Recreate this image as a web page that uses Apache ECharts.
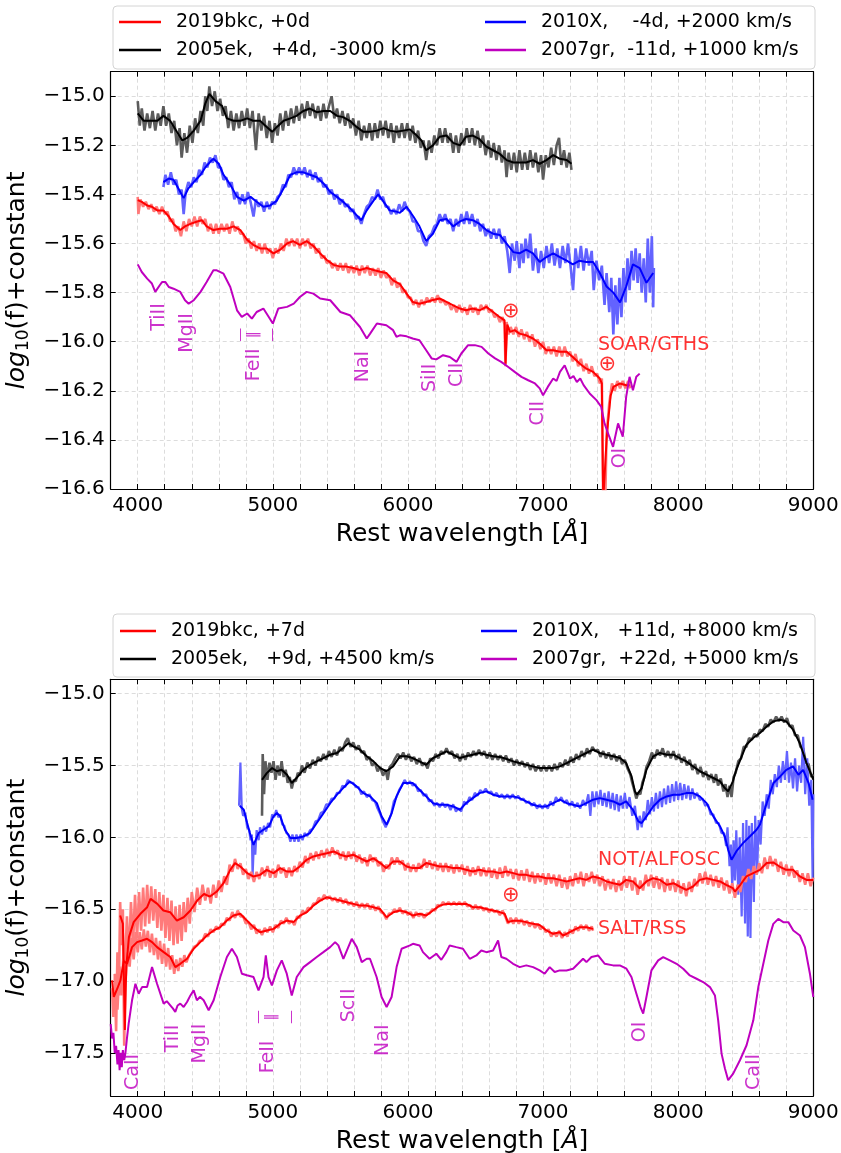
<!DOCTYPE html>
<html lang="en">
<head>
<meta charset="UTF-8">
<title>SN 2019bkc spectra comparison</title>
<script src="https://cdn.jsdelivr.net/npm/echarts@6/dist/echarts.min.js"></script>
<style>
  html, body { margin: 0; padding: 0; background: #fff; }
  #chart { width: 841px; height: 1153px; }
</style>
</head>
<body>
<div id="chart"></div>
<script>
// ---------- top panel (around maximum) ----------
const bkcTopRaw = [[4000,-15.41],[4005,-15.48],[4020,-15.42],[4040,-15.45],[4060,-15.43],[4080,-15.46],[4100,-15.44],[4120,-15.47],[4140,-15.45],[4160,-15.48],[4180,-15.45],[4200,-15.48],[4220,-15.47],[4240,-15.51],[4260,-15.50],[4280,-15.55],[4300,-15.53],[4320,-15.57],[4340,-15.51],[4360,-15.55],[4380,-15.50],[4400,-15.53],[4420,-15.49],[4440,-15.53],[4460,-15.49],[4480,-15.52],[4500,-15.50],[4520,-15.55],[4540,-15.52],[4560,-15.56],[4580,-15.52],[4600,-15.56],[4620,-15.52],[4640,-15.55],[4660,-15.52],[4680,-15.56],[4700,-15.51],[4720,-15.55],[4740,-15.53],[4760,-15.56],[4780,-15.56],[4800,-15.60],[4820,-15.58],[4840,-15.62],[4860,-15.59],[4880,-15.63],[4900,-15.60],[4920,-15.64],[4940,-15.60],[4960,-15.64],[4980,-15.62],[5000,-15.66],[5020,-15.62],[5040,-15.64],[5060,-15.60],[5080,-15.63],[5100,-15.58],[5120,-15.61],[5140,-15.58],[5160,-15.61],[5180,-15.58],[5200,-15.62],[5220,-15.58],[5240,-15.61],[5260,-15.58],[5280,-15.62],[5300,-15.60],[5320,-15.64],[5340,-15.62],[5360,-15.66],[5380,-15.65],[5400,-15.68],[5420,-15.67],[5440,-15.70],[5460,-15.68],[5480,-15.71],[5500,-15.68],[5520,-15.71],[5540,-15.68],[5560,-15.72],[5580,-15.69],[5600,-15.72],[5620,-15.69],[5640,-15.73],[5660,-15.69],[5680,-15.72],[5700,-15.69],[5720,-15.73],[5740,-15.70],[5760,-15.73],[5780,-15.70],[5800,-15.74],[5820,-15.71],[5840,-15.74],[5860,-15.73],[5880,-15.77],[5900,-15.74],[5920,-15.78],[5940,-15.76],[5960,-15.80],[5980,-15.79],[6000,-15.82],[6020,-15.82],[6040,-15.85],[6060,-15.83],[6080,-15.86],[6100,-15.83],[6120,-15.85],[6140,-15.82],[6160,-15.84],[6180,-15.82],[6200,-15.84],[6220,-15.81],[6240,-15.84],[6260,-15.83],[6280,-15.85],[6300,-15.84],[6320,-15.87],[6340,-15.85],[6360,-15.88],[6380,-15.85],[6400,-15.88],[6420,-15.86],[6440,-15.89],[6460,-15.85],[6480,-15.88],[6500,-15.86],[6520,-15.89],[6540,-15.85],[6560,-15.87],[6580,-15.85],[6600,-15.88],[6620,-15.87],[6640,-15.90],[6660,-15.89],[6680,-15.92],[6700,-15.90],[6715,-15.93],[6722,-16.10],[6730,-15.92],[6745,-15.97],[6760,-15.94],[6780,-15.97],[6800,-15.94],[6820,-15.98],[6840,-15.95],[6860,-15.99],[6880,-15.96],[6900,-16.00],[6920,-15.97],[6940,-16.02],[6960,-15.99],[6980,-16.03],[7000,-16.00],[7020,-16.05],[7040,-16.02],[7060,-16.05],[7080,-16.02],[7100,-16.06],[7120,-16.02],[7140,-16.06],[7160,-16.02],[7180,-16.06],[7200,-16.04],[7220,-16.08],[7240,-16.05],[7260,-16.10],[7280,-16.07],[7300,-16.12],[7320,-16.09],[7340,-16.13],[7360,-16.10],[7380,-16.14],[7400,-16.13],[7420,-16.17],[7435,-16.15],[7445,-16.65],[7460,-16.65],[7470,-16.38],[7490,-16.25],[7510,-16.17],[7530,-16.20],[7550,-16.16],[7570,-16.19],[7590,-16.16],[7610,-16.19],[7630,-16.16],[7645,-16.19]];
const bkcTop = [[4000,-15.423],[4030,-15.43],[4070,-15.445],[4105,-15.45],[4145,-15.465],[4190,-15.465],[4230,-15.49],[4265,-15.52],[4315,-15.545],[4350,-15.53],[4390,-15.52],[4440,-15.51],[4475,-15.505],[4510,-15.53],[4560,-15.545],[4610,-15.54],[4660,-15.54],[4710,-15.53],[4760,-15.545],[4810,-15.585],[4855,-15.605],[4905,-15.62],[4955,-15.62],[5005,-15.64],[5055,-15.625],[5105,-15.60],[5150,-15.59],[5200,-15.605],[5250,-15.59],[5300,-15.61],[5350,-15.64],[5400,-15.667],[5450,-15.687],[5500,-15.694],[5545,-15.694],[5595,-15.70],[5645,-15.708],[5695,-15.70],[5745,-15.708],[5795,-15.715],[5840,-15.72],[5890,-15.75],[5940,-15.765],[5990,-15.804],[6035,-15.838],[6085,-15.845],[6135,-15.838],[6185,-15.83],[6235,-15.824],[6285,-15.838],[6335,-15.852],[6385,-15.865],[6430,-15.872],[6480,-15.865],[6530,-15.872],[6580,-15.858],[6630,-15.879],[6680,-15.90],[6715,-15.913],[6722,-16.09],[6735,-15.93],[6755,-15.96],[6790,-15.953],[6825,-15.967],[6875,-15.974],[6925,-15.987],[6975,-16.007],[7025,-16.035],[7075,-16.035],[7125,-16.041],[7175,-16.041],[7220,-16.062],[7270,-16.089],[7320,-16.11],[7370,-16.123],[7420,-16.15],[7435,-16.17],[7445,-16.65],[7455,-16.65],[7470,-16.40],[7480,-16.333],[7500,-16.22],[7520,-16.184],[7570,-16.17],[7615,-16.177],[7640,-16.177]];

const ek05TopRaw = [[4000,-15.02],[4015,-15.12],[4030,-15.05],[4050,-15.14],[4070,-15.07],[4090,-15.13],[4110,-15.06],[4130,-15.14],[4150,-15.07],[4170,-15.12],[4190,-15.04],[4210,-15.12],[4230,-15.07],[4250,-15.15],[4270,-15.10],[4290,-15.20],[4310,-15.13],[4325,-15.25],[4345,-15.15],[4365,-15.23],[4385,-15.12],[4405,-15.19],[4425,-15.09],[4445,-15.15],[4465,-15.06],[4485,-15.12],[4500,-15.00],[4515,-15.06],[4530,-14.96],[4550,-15.04],[4570,-14.98],[4590,-15.06],[4610,-15.01],[4630,-15.08],[4650,-15.04],[4670,-15.13],[4690,-15.06],[4710,-15.14],[4730,-15.07],[4750,-15.13],[4770,-15.06],[4790,-15.12],[4810,-15.05],[4830,-15.13],[4850,-15.06],[4875,-15.22],[4895,-15.07],[4915,-15.14],[4935,-15.08],[4955,-15.17],[4975,-15.10],[4995,-15.19],[5015,-15.11],[5035,-15.16],[5055,-15.07],[5075,-15.14],[5095,-15.06],[5115,-15.12],[5135,-15.05],[5155,-15.11],[5175,-15.04],[5195,-15.10],[5215,-15.03],[5235,-15.09],[5255,-15.02],[5275,-15.08],[5295,-15.03],[5315,-15.09],[5335,-15.04],[5355,-15.10],[5375,-15.03],[5395,-15.09],[5415,-15.04],[5435,-15.00],[5455,-15.09],[5475,-15.05],[5495,-15.11],[5515,-15.06],[5535,-15.12],[5555,-15.07],[5575,-15.13],[5595,-15.09],[5615,-15.16],[5635,-15.10],[5655,-15.18],[5675,-15.12],[5695,-15.17],[5715,-15.11],[5735,-15.18],[5755,-15.11],[5775,-15.17],[5795,-15.10],[5815,-15.16],[5835,-15.10],[5855,-15.17],[5875,-15.11],[5895,-15.19],[5915,-15.12],[5935,-15.17],[5955,-15.11],[5975,-15.17],[5995,-15.11],[6015,-15.18],[6035,-15.12],[6055,-15.19],[6075,-15.14],[6095,-15.21],[6115,-15.18],[6135,-15.26],[6155,-15.18],[6175,-15.23],[6195,-15.16],[6215,-15.20],[6235,-15.13],[6255,-15.19],[6275,-15.13],[6295,-15.19],[6315,-15.15],[6335,-15.23],[6355,-15.16],[6375,-15.23],[6395,-15.15],[6415,-15.20],[6435,-15.13],[6455,-15.19],[6475,-15.13],[6495,-15.20],[6515,-15.14],[6535,-15.21],[6555,-15.16],[6575,-15.24],[6595,-15.18],[6615,-15.25],[6635,-15.19],[6655,-15.26],[6675,-15.20],[6695,-15.27],[6715,-15.22],[6730,-15.33],[6745,-15.23],[6765,-15.30],[6785,-15.23],[6805,-15.31],[6825,-15.22],[6845,-15.30],[6865,-15.23],[6885,-15.30],[6905,-15.22],[6925,-15.29],[6945,-15.23],[6965,-15.31],[6985,-15.24],[7000,-15.34],[7020,-15.24],[7040,-15.29],[7060,-15.21],[7080,-15.28],[7100,-15.20],[7118,-15.17],[7135,-15.28],[7155,-15.22],[7175,-15.29],[7195,-15.23],[7210,-15.30]];
const ek05Top = [[4000,-15.07],[4045,-15.10],[4095,-15.10],[4145,-15.10],[4190,-15.08],[4240,-15.10],[4290,-15.145],[4330,-15.18],[4365,-15.17],[4415,-15.14],[4465,-15.10],[4500,-15.03],[4530,-14.99],[4575,-15.02],[4625,-15.04],[4660,-15.09],[4710,-15.10],[4760,-15.10],[4810,-15.09],[4855,-15.10],[4905,-15.10],[4955,-15.125],[4995,-15.145],[5030,-15.125],[5080,-15.10],[5130,-15.09],[5175,-15.08],[5225,-15.06],[5275,-15.05],[5325,-15.065],[5375,-15.06],[5425,-15.06],[5475,-15.08],[5520,-15.085],[5570,-15.10],[5620,-15.125],[5670,-15.145],[5720,-15.145],[5770,-15.14],[5820,-15.13],[5865,-15.14],[5915,-15.145],[5965,-15.14],[6015,-15.135],[6065,-15.16],[6100,-15.18],[6135,-15.22],[6185,-15.20],[6235,-15.165],[6285,-15.16],[6335,-15.19],[6385,-15.20],[6430,-15.165],[6480,-15.16],[6530,-15.175],[6580,-15.205],[6630,-15.22],[6680,-15.235],[6730,-15.26],[6780,-15.27],[6825,-15.27],[6875,-15.27],[6925,-15.26],[6975,-15.275],[7025,-15.26],[7075,-15.24],[7125,-15.255],[7175,-15.26],[7210,-15.275]];

const x10TopRaw = [[4190,-15.37],[4205,-15.32],[4225,-15.36],[4245,-15.31],[4265,-15.36],[4285,-15.34],[4305,-15.40],[4325,-15.38],[4340,-15.48],[4355,-15.39],[4375,-15.35],[4395,-15.37],[4415,-15.33],[4435,-15.35],[4455,-15.30],[4475,-15.32],[4495,-15.27],[4515,-15.29],[4535,-15.25],[4555,-15.27],[4575,-15.24],[4595,-15.29],[4615,-15.29],[4635,-15.34],[4655,-15.33],[4675,-15.37],[4695,-15.35],[4715,-15.42],[4735,-15.39],[4755,-15.44],[4775,-15.40],[4795,-15.44],[4815,-15.39],[4835,-15.43],[4857,-15.49],[4875,-15.42],[4895,-15.45],[4915,-15.43],[4935,-15.47],[4955,-15.43],[4975,-15.46],[4995,-15.43],[5015,-15.44],[5035,-15.41],[5055,-15.40],[5075,-15.36],[5095,-15.37],[5115,-15.32],[5135,-15.33],[5155,-15.29],[5175,-15.32],[5195,-15.29],[5215,-15.32],[5235,-15.29],[5255,-15.33],[5275,-15.30],[5295,-15.34],[5315,-15.31],[5335,-15.35],[5355,-15.33],[5375,-15.37],[5395,-15.36],[5415,-15.40],[5435,-15.38],[5455,-15.42],[5475,-15.40],[5495,-15.44],[5515,-15.42],[5535,-15.45],[5555,-15.44],[5575,-15.47],[5595,-15.46],[5615,-15.50],[5635,-15.49],[5655,-15.52],[5675,-15.48],[5695,-15.45],[5715,-15.44],[5735,-15.41],[5755,-15.42],[5775,-15.38],[5795,-15.42],[5815,-15.41],[5835,-15.45],[5855,-15.45],[5875,-15.48],[5895,-15.46],[5915,-15.48],[5935,-15.44],[5955,-15.47],[5975,-15.43],[5995,-15.46],[6015,-15.47],[6035,-15.51],[6055,-15.51],[6075,-15.55],[6095,-15.55],[6115,-15.59],[6135,-15.61],[6155,-15.57],[6175,-15.56],[6195,-15.53],[6215,-15.52],[6235,-15.48],[6255,-15.51],[6275,-15.48],[6295,-15.52],[6315,-15.50],[6335,-15.55],[6355,-15.50],[6375,-15.53],[6395,-15.48],[6415,-15.52],[6435,-15.47],[6455,-15.52],[6475,-15.48],[6495,-15.53],[6515,-15.50],[6535,-15.55],[6555,-15.52],[6575,-15.57],[6595,-15.54],[6615,-15.58],[6635,-15.54],[6655,-15.58],[6675,-15.54],[6695,-15.60],[6715,-15.57],[6735,-15.63],[6753,-15.72],[6770,-15.60],[6790,-15.67],[6805,-15.59],[6825,-15.70],[6840,-15.60],[6855,-15.68],[6870,-15.58],[6890,-15.66],[6905,-15.56],[6925,-15.71],[6945,-15.62],[6965,-15.72],[6985,-15.63],[7005,-15.70],[7025,-15.61],[7045,-15.68],[7065,-15.60],[7085,-15.69],[7105,-15.62],[7125,-15.70],[7145,-15.61],[7165,-15.68],[7185,-15.60],[7205,-15.70],[7222,-15.79],[7240,-15.62],[7260,-15.70],[7280,-15.61],[7300,-15.71],[7320,-15.62],[7340,-15.69],[7360,-15.63],[7375,-15.79],[7395,-15.67],[7415,-15.75],[7435,-15.69],[7455,-15.85],[7470,-15.72],[7490,-15.88],[7505,-15.74],[7520,-15.97],[7535,-15.77],[7550,-15.93],[7565,-15.74],[7580,-15.90],[7595,-15.70],[7610,-15.84],[7625,-15.66],[7640,-15.79],[7655,-15.63],[7670,-15.75],[7685,-15.62],[7700,-15.76],[7715,-15.64],[7730,-15.80],[7745,-15.66],[7760,-15.84],[7775,-15.58],[7790,-15.80],[7805,-15.57],[7815,-15.86],[7820,-15.70]];
const x10Top = [[4190,-15.35],[4230,-15.335],[4265,-15.34],[4300,-15.375],[4340,-15.415],[4375,-15.375],[4415,-15.35],[4465,-15.32],[4500,-15.29],[4540,-15.265],[4560,-15.255],[4600,-15.275],[4635,-15.32],[4685,-15.36],[4735,-15.41],[4785,-15.425],[4835,-15.41],[4880,-15.43],[4930,-15.45],[4980,-15.445],[5030,-15.425],[5080,-15.375],[5130,-15.32],[5175,-15.31],[5225,-15.31],[5275,-15.32],[5325,-15.33],[5375,-15.355],[5425,-15.39],[5475,-15.41],[5520,-15.43],[5570,-15.455],[5620,-15.485],[5655,-15.505],[5695,-15.465],[5745,-15.425],[5780,-15.40],[5820,-15.43],[5865,-15.465],[5915,-15.47],[5940,-15.475],[5990,-15.45],[6040,-15.49],[6085,-15.53],[6135,-15.59],[6185,-15.56],[6235,-15.505],[6285,-15.50],[6335,-15.53],[6385,-15.51],[6430,-15.50],[6480,-15.505],[6530,-15.52],[6580,-15.545],[6630,-15.56],[6680,-15.565],[6730,-15.60],[6780,-15.635],[6825,-15.64],[6875,-15.625],[6925,-15.64],[6975,-15.675],[7025,-15.655],[7075,-15.64],[7125,-15.655],[7175,-15.67],[7220,-15.685],[7270,-15.67],[7320,-15.675],[7370,-15.675],[7420,-15.72],[7470,-15.775],[7520,-15.80],[7570,-15.84],[7615,-15.775],[7665,-15.685],[7715,-15.70],[7765,-15.76],[7815,-15.72]];

const gr07Top = [[4000,-15.685],[4030,-15.716],[4070,-15.743],[4105,-15.763],[4130,-15.797],[4143,-15.804],[4163,-15.77],[4180,-15.757],[4205,-15.757],[4230,-15.777],[4265,-15.784],[4315,-15.797],[4350,-15.831],[4377,-15.845],[4415,-15.831],[4465,-15.797],[4510,-15.757],[4560,-15.709],[4585,-15.709],[4635,-15.723],[4685,-15.777],[4735,-15.872],[4770,-15.899],[4810,-15.885],[4845,-15.906],[4880,-15.879],[4930,-15.865],[4970,-15.899],[5000,-15.926],[5040,-15.865],[5105,-15.858],[5155,-15.845],[5200,-15.818],[5250,-15.797],[5300,-15.804],[5350,-15.824],[5425,-15.831],[5500,-15.879],[5570,-15.892],[5645,-15.94],[5695,-15.987],[5720,-15.967],[5770,-15.926],[5840,-15.933],[5890,-15.953],[5915,-15.98],[5940,-15.974],[5990,-15.978],[6035,-15.987],[6085,-15.994],[6135,-16.035],[6175,-16.068],[6210,-16.072],[6260,-16.055],[6310,-16.062],[6360,-16.082],[6395,-16.048],[6445,-16.014],[6495,-16.014],[6545,-16.021],[6595,-16.048],[6645,-16.068],[6690,-16.082],[6740,-16.102],[6790,-16.123],[6840,-16.143],[6890,-16.157],[6940,-16.17],[6975,-16.19],[7000,-16.218],[7035,-16.184],[7075,-16.15],[7100,-16.16],[7125,-16.123],[7160,-16.096],[7200,-16.15],[7225,-16.14],[7250,-16.164],[7275,-16.15],[7300,-16.177],[7345,-16.211],[7395,-16.238],[7430,-16.265],[7455,-16.333],[7490,-16.387],[7518,-16.428],[7555,-16.333],[7590,-16.387],[7615,-16.225],[7640,-16.143],[7665,-16.198],[7690,-16.143],[7715,-16.13]];

// ---------- bottom panel (after maximum) ----------
const notRaw = [[3830,-16.95],[3840,-17.35],[3850,-16.80],[3860,-17.10],[3870,-16.45],[3880,-16.75],[3890,-16.50],[3900,-17.45],[3910,-16.80],[3920,-16.55],[3935,-16.85],[3950,-16.45],[3965,-16.75],[3980,-16.40],[3995,-16.70],[4010,-16.38],[4025,-16.65],[4040,-16.35],[4055,-16.62],[4070,-16.33],[4085,-16.60],[4100,-16.34],[4115,-16.58],[4130,-16.36],[4145,-16.63],[4160,-16.38],[4175,-16.65],[4190,-16.40],[4205,-16.70],[4220,-16.42],[4235,-16.72],[4250,-16.44],[4265,-16.75],[4280,-16.48],[4295,-16.74],[4310,-16.47],[4325,-16.72],[4340,-16.45],[4355,-16.66],[4370,-16.42],[4385,-16.60],[4400,-16.38],[4420,-16.52],[4440,-16.35],[4460,-16.47],[4480,-16.33],[4500,-16.44],[4520,-16.35],[4540,-16.46],[4560,-16.33],[4580,-16.42],[4600,-16.30],[4620,-16.38],[4640,-16.27],[4660,-16.33],[4680,-16.19],[4700,-16.24],[4720,-16.15],[4740,-16.22],[4760,-16.18],[4780,-16.26],[4800,-16.22],[4820,-16.29],[4840,-16.24],[4860,-16.31],[4880,-16.24],[4900,-16.29],[4920,-16.21],[4940,-16.27],[4960,-16.20],[4980,-16.28],[5000,-16.22],[5020,-16.28],[5040,-16.19],[5060,-16.25],[5080,-16.21],[5100,-16.28],[5120,-16.21],[5140,-16.27],[5160,-16.20],[5180,-16.24],[5200,-16.17],[5220,-16.21],[5240,-16.13],[5260,-16.18],[5280,-16.11],[5300,-16.16],[5320,-16.10],[5340,-16.15],[5360,-16.09],[5380,-16.14],[5400,-16.08],[5420,-16.13],[5440,-16.07],[5460,-16.12],[5480,-16.09],[5500,-16.15],[5520,-16.10],[5540,-16.16],[5560,-16.10],[5580,-16.15],[5600,-16.10],[5620,-16.17],[5640,-16.12],[5660,-16.18],[5680,-16.14],[5700,-16.20],[5720,-16.12],[5740,-16.17],[5760,-16.14],[5780,-16.20],[5800,-16.17],[5820,-16.24],[5840,-16.19],[5860,-16.22],[5880,-16.14],[5900,-16.19],[5920,-16.14],[5940,-16.19],[5960,-16.16],[5980,-16.23],[6000,-16.18],[6020,-16.24],[6040,-16.19],[6060,-16.24],[6080,-16.18],[6100,-16.22],[6120,-16.15],[6140,-16.21],[6160,-16.16],[6180,-16.22],[6200,-16.17],[6220,-16.23],[6240,-16.18],[6260,-16.24],[6280,-16.18],[6300,-16.24],[6320,-16.19],[6340,-16.25],[6360,-16.19],[6380,-16.24],[6400,-16.19],[6420,-16.26],[6440,-16.20],[6460,-16.27],[6480,-16.21],[6500,-16.26],[6520,-16.20],[6540,-16.27],[6560,-16.21],[6580,-16.27],[6600,-16.21],[6620,-16.28],[6640,-16.22],[6660,-16.29],[6680,-16.21],[6700,-16.28],[6720,-16.20],[6740,-16.27],[6760,-16.22],[6780,-16.29],[6800,-16.22],[6820,-16.30],[6840,-16.23],[6860,-16.30],[6880,-16.22],[6900,-16.31],[6920,-16.24],[6940,-16.32],[6960,-16.25],[6980,-16.31],[7000,-16.25],[7020,-16.33],[7040,-16.25],[7060,-16.32],[7080,-16.26],[7100,-16.34],[7120,-16.26],[7140,-16.35],[7160,-16.28],[7180,-16.36],[7200,-16.27],[7220,-16.34],[7240,-16.25],[7260,-16.32],[7280,-16.24],[7300,-16.34],[7320,-16.25],[7340,-16.31],[7360,-16.24],[7380,-16.32],[7400,-16.26],[7420,-16.34],[7440,-16.27],[7460,-16.37],[7480,-16.29],[7500,-16.36],[7520,-16.29],[7540,-16.38],[7560,-16.30],[7580,-16.37],[7600,-16.27],[7620,-16.35],[7640,-16.27],[7660,-16.37],[7680,-16.28],[7700,-16.40],[7720,-16.30],[7740,-16.37],[7760,-16.26],[7780,-16.34],[7800,-16.26],[7820,-16.35],[7840,-16.27],[7860,-16.36],[7880,-16.28],[7900,-16.38],[7920,-16.29],[7940,-16.37],[7960,-16.29],[7980,-16.38],[8000,-16.30],[8020,-16.39],[8040,-16.32],[8060,-16.41],[8080,-16.31],[8100,-16.38],[8120,-16.29],[8140,-16.34],[8160,-16.25],[8180,-16.32],[8200,-16.24],[8220,-16.33],[8240,-16.26],[8260,-16.34],[8280,-16.27],[8300,-16.35],[8320,-16.28],[8340,-16.37],[8360,-16.30],[8380,-16.39],[8400,-16.32],[8420,-16.42],[8440,-16.33],[8460,-16.38],[8480,-16.27],[8500,-16.31],[8520,-16.22],[8540,-16.29],[8560,-16.20],[8580,-16.26],[8600,-16.18],[8620,-16.25],[8640,-16.14],[8660,-16.22],[8680,-16.13],[8700,-16.20],[8720,-16.15],[8740,-16.24],[8760,-16.17],[8780,-16.26],[8800,-16.19],[8820,-16.27],[8840,-16.20],[8860,-16.28],[8880,-16.23],[8900,-16.31],[8920,-16.25],[8940,-16.33],[8960,-16.25],[8980,-16.34],[9000,-16.28]];
const notSmooth = [[3870,-16.544],[3890,-16.60],[3905,-17.34],[3915,-16.90],[3935,-16.694],[3970,-16.59],[4020,-16.532],[4070,-16.486],[4095,-16.428],[4145,-16.463],[4190,-16.509],[4240,-16.521],[4290,-16.579],[4340,-16.556],[4390,-16.509],[4440,-16.44],[4490,-16.394],[4535,-16.412],[4585,-16.377],[4635,-16.319],[4685,-16.226],[4720,-16.179],[4760,-16.203],[4810,-16.249],[4855,-16.272],[4905,-16.261],[4955,-16.226],[5005,-16.249],[5055,-16.214],[5105,-16.238],[5150,-16.238],[5200,-16.203],[5250,-16.156],[5300,-16.133],[5350,-16.121],[5400,-16.11],[5450,-16.098],[5500,-16.121],[5545,-16.133],[5595,-16.121],[5645,-16.145],[5695,-16.168],[5745,-16.145],[5795,-16.179],[5840,-16.214],[5890,-16.168],[5940,-16.168],[5990,-16.203],[6035,-16.214],[6085,-16.214],[6135,-16.179],[6185,-16.191],[6235,-16.203],[6285,-16.203],[6335,-16.214],[6385,-16.214],[6430,-16.226],[6480,-16.238],[6530,-16.226],[6580,-16.238],[6630,-16.238],[6680,-16.249],[6730,-16.238],[6780,-16.249],[6825,-16.261],[6875,-16.261],[6925,-16.272],[6975,-16.272],[7025,-16.284],[7075,-16.284],[7125,-16.296],[7175,-16.307],[7220,-16.296],[7270,-16.284],[7320,-16.296],[7370,-16.272],[7420,-16.284],[7470,-16.307],[7520,-16.319],[7570,-16.33],[7615,-16.296],[7665,-16.307],[7715,-16.354],[7765,-16.307],[7815,-16.284],[7865,-16.296],[7915,-16.33],[7965,-16.319],[8010,-16.342],[8060,-16.365],[8110,-16.342],[8160,-16.296],[8210,-16.284],[8260,-16.296],[8310,-16.307],[8355,-16.33],[8405,-16.354],[8420,-16.377],[8460,-16.33],[8505,-16.272],[8555,-16.249],[8605,-16.226],[8655,-16.179],[8705,-16.175],[8750,-16.203],[8800,-16.226],[8850,-16.226],[8900,-16.272],[8950,-16.296],[9000,-16.296]];

const saltRaw = [[3810,-17.05],[3820,-17.25],[3835,-16.95],[3850,-17.20],[3865,-16.90],[3880,-17.10],[3895,-16.80],[3910,-17.00],[3925,-16.80],[3940,-16.90],[3955,-16.70],[3970,-16.85],[3985,-16.66],[4000,-16.80],[4015,-16.66],[4030,-16.78],[4045,-16.64],[4060,-16.76],[4075,-16.65],[4090,-16.80],[4105,-16.67],[4120,-16.82],[4135,-16.70],[4150,-16.85],[4165,-16.72],[4180,-16.88],[4195,-16.74],[4210,-16.90],[4225,-16.77],[4240,-16.92],[4255,-16.82],[4270,-16.95],[4285,-16.85],[4300,-16.93],[4315,-16.84],[4330,-16.90],[4345,-16.82],[4360,-16.87],[4380,-16.82],[4400,-16.79],[4420,-16.76],[4440,-16.75],[4460,-16.72],[4480,-16.72],[4500,-16.67],[4520,-16.69],[4540,-16.64],[4560,-16.66],[4580,-16.62],[4600,-16.64],[4620,-16.60],[4640,-16.61],[4660,-16.56],[4680,-16.58],[4700,-16.52],[4720,-16.56],[4740,-16.51],[4760,-16.55],[4780,-16.55],[4800,-16.60],[4820,-16.59],[4840,-16.64],[4860,-16.61],[4880,-16.67],[4900,-16.64],[4920,-16.68],[4940,-16.63],[4960,-16.66],[4980,-16.62],[5000,-16.66],[5020,-16.61],[5040,-16.63],[5060,-16.58],[5080,-16.60],[5100,-16.56],[5120,-16.60],[5140,-16.58],[5160,-16.61],[5180,-16.55],[5200,-16.56],[5220,-16.51],[5240,-16.53],[5260,-16.49],[5280,-16.50],[5300,-16.46],[5320,-16.46],[5340,-16.42],[5360,-16.44],[5380,-16.40],[5400,-16.43],[5420,-16.41],[5440,-16.44],[5460,-16.42],[5480,-16.45],[5500,-16.42],[5520,-16.46],[5540,-16.43],[5560,-16.47],[5580,-16.45],[5600,-16.48],[5620,-16.45],[5640,-16.49],[5660,-16.46],[5680,-16.49],[5700,-16.46],[5720,-16.50],[5740,-16.47],[5760,-16.51],[5780,-16.48],[5800,-16.52],[5820,-16.53],[5840,-16.57],[5860,-16.53],[5880,-16.53],[5900,-16.50],[5920,-16.52],[5940,-16.49],[5960,-16.53],[5980,-16.51],[6000,-16.54],[6020,-16.52],[6040,-16.56],[6060,-16.52],[6080,-16.55],[6100,-16.53],[6120,-16.56],[6140,-16.53],[6160,-16.53],[6180,-16.50],[6200,-16.51],[6220,-16.47],[6240,-16.48],[6260,-16.45],[6280,-16.47],[6300,-16.45],[6320,-16.47],[6340,-16.45],[6360,-16.47],[6380,-16.45],[6400,-16.47],[6420,-16.45],[6440,-16.48],[6460,-16.47],[6480,-16.50],[6500,-16.47],[6520,-16.50],[6540,-16.48],[6560,-16.51],[6580,-16.49],[6600,-16.52],[6620,-16.50],[6640,-16.52],[6660,-16.51],[6680,-16.54],[6700,-16.51],[6720,-16.55],[6740,-16.60],[6760,-16.56],[6780,-16.60],[6800,-16.56],[6820,-16.60],[6840,-16.57],[6860,-16.61],[6880,-16.58],[6900,-16.62],[6920,-16.59],[6940,-16.63],[6960,-16.60],[6980,-16.64],[7000,-16.62],[7020,-16.66],[7040,-16.64],[7060,-16.69],[7080,-16.66],[7100,-16.69],[7120,-16.65],[7140,-16.70],[7160,-16.66],[7180,-16.69],[7200,-16.64],[7220,-16.67],[7240,-16.62],[7260,-16.65],[7280,-16.61],[7300,-16.64],[7320,-16.61],[7340,-16.65],[7360,-16.62],[7370,-16.65]];
const saltSmooth = [[3810,-16.995],[3823,-17.11],[3850,-17.05],[3872,-16.995],[3897,-16.86],[3921,-16.88],[3958,-16.764],[3995,-16.729],[4032,-16.718],[4069,-16.706],[4106,-16.729],[4143,-16.764],[4192,-16.799],[4241,-16.833],[4278,-16.903],[4315,-16.88],[4365,-16.845],[4414,-16.775],[4463,-16.729],[4512,-16.683],[4562,-16.648],[4611,-16.625],[4660,-16.579],[4709,-16.544],[4759,-16.532],[4808,-16.579],[4857,-16.625],[4906,-16.66],[4956,-16.648],[5005,-16.637],[5054,-16.602],[5103,-16.579],[5153,-16.59],[5202,-16.544],[5251,-16.521],[5300,-16.475],[5350,-16.44],[5399,-16.417],[5448,-16.428],[5498,-16.44],[5547,-16.451],[5596,-16.463],[5645,-16.475],[5695,-16.475],[5744,-16.486],[5793,-16.498],[5842,-16.556],[5892,-16.521],[5941,-16.509],[5990,-16.521],[6037,-16.544],[6086,-16.532],[6136,-16.544],[6185,-16.509],[6235,-16.475],[6284,-16.463],[6333,-16.463],[6383,-16.463],[6432,-16.463],[6481,-16.486],[6531,-16.486],[6580,-16.498],[6630,-16.509],[6679,-16.52],[6716,-16.532],[6740,-16.59],[6778,-16.58],[6827,-16.58],[6876,-16.59],[6926,-16.602],[6975,-16.61],[7025,-16.648],[7074,-16.671],[7123,-16.66],[7148,-16.683],[7173,-16.671],[7222,-16.648],[7272,-16.625],[7321,-16.625],[7370,-16.637]];

const ek05BotRaw = [[4920,-15.85],[4925,-15.42],[4935,-15.70],[4945,-15.47],[4960,-15.60],[4975,-15.48],[4990,-15.55],[5005,-15.47],[5020,-15.60],[5035,-15.50],[5050,-15.57],[5065,-15.47],[5080,-15.58],[5095,-15.53],[5110,-15.62],[5125,-15.58],[5140,-15.66],[5155,-15.60],[5170,-15.61],[5185,-15.55],[5200,-15.57],[5215,-15.50],[5235,-15.55],[5255,-15.48],[5275,-15.52],[5295,-15.46],[5315,-15.50],[5335,-15.44],[5355,-15.47],[5375,-15.42],[5395,-15.46],[5415,-15.40],[5435,-15.44],[5455,-15.39],[5475,-15.43],[5495,-15.37],[5515,-15.40],[5535,-15.34],[5555,-15.31],[5575,-15.37],[5595,-15.34],[5615,-15.39],[5635,-15.36],[5655,-15.41],[5675,-15.40],[5695,-15.46],[5715,-15.44],[5735,-15.50],[5755,-15.48],[5775,-15.54],[5795,-15.51],[5815,-15.57],[5835,-15.53],[5850,-15.60],[5865,-15.51],[5885,-15.49],[5905,-15.45],[5925,-15.42],[5945,-15.45],[5965,-15.41],[5985,-15.46],[6005,-15.42],[6025,-15.47],[6045,-15.44],[6065,-15.49],[6085,-15.45],[6105,-15.50],[6125,-15.48],[6145,-15.52],[6165,-15.45],[6185,-15.47],[6205,-15.42],[6225,-15.45],[6245,-15.40],[6265,-15.42],[6285,-15.38],[6305,-15.42],[6325,-15.40],[6345,-15.45],[6365,-15.42],[6385,-15.47],[6405,-15.42],[6425,-15.46],[6445,-15.41],[6465,-15.44],[6485,-15.40],[6505,-15.43],[6525,-15.39],[6545,-15.43],[6565,-15.40],[6585,-15.45],[6605,-15.41],[6625,-15.46],[6645,-15.42],[6665,-15.46],[6685,-15.43],[6705,-15.47],[6725,-15.43],[6745,-15.48],[6765,-15.45],[6785,-15.50],[6805,-15.46],[6825,-15.50],[6845,-15.47],[6865,-15.51],[6885,-15.48],[6905,-15.53],[6925,-15.49],[6945,-15.54],[6965,-15.50],[6985,-15.54],[7005,-15.50],[7025,-15.54],[7045,-15.50],[7065,-15.54],[7085,-15.49],[7105,-15.53],[7125,-15.48],[7145,-15.51],[7165,-15.46],[7185,-15.50],[7205,-15.44],[7225,-15.48],[7245,-15.42],[7265,-15.46],[7285,-15.40],[7305,-15.44],[7325,-15.38],[7345,-15.42],[7365,-15.37],[7385,-15.40],[7405,-15.39],[7425,-15.44],[7445,-15.40],[7465,-15.45],[7485,-15.41],[7505,-15.46],[7525,-15.42],[7545,-15.47],[7565,-15.43],[7585,-15.49],[7605,-15.46],[7625,-15.52],[7645,-15.56],[7660,-15.62],[7675,-15.67],[7690,-15.73],[7705,-15.69],[7720,-15.70],[7735,-15.62],[7750,-15.58],[7765,-15.51],[7785,-15.47],[7805,-15.41],[7825,-15.45],[7845,-15.39],[7865,-15.43],[7885,-15.38],[7905,-15.44],[7925,-15.40],[7945,-15.45],[7965,-15.40],[7985,-15.46],[8005,-15.42],[8025,-15.48],[8045,-15.44],[8065,-15.50],[8085,-15.46],[8105,-15.53],[8125,-15.49],[8145,-15.56],[8165,-15.51],[8185,-15.58],[8205,-15.54],[8225,-15.60],[8245,-15.56],[8265,-15.62],[8280,-15.56],[8295,-15.64],[8315,-15.59],[8335,-15.68],[8350,-15.63],[8365,-15.72],[8380,-15.64],[8395,-15.72],[8410,-15.58],[8425,-15.55],[8445,-15.47],[8465,-15.45],[8485,-15.37],[8505,-15.37],[8525,-15.31],[8545,-15.32],[8565,-15.28],[8585,-15.30],[8605,-15.25],[8625,-15.26],[8645,-15.21],[8665,-15.23],[8685,-15.18],[8705,-15.20],[8725,-15.16],[8745,-15.19],[8765,-15.16],[8785,-15.20],[8805,-15.17],[8825,-15.23],[8845,-15.22],[8865,-15.29],[8885,-15.29],[8905,-15.37],[8925,-15.38],[8945,-15.48],[8965,-15.49],[8985,-15.58],[9000,-15.56]];
const ek05Bot = [[4920,-15.60],[4955,-15.553],[4995,-15.518],[5030,-15.54],[5065,-15.53],[5105,-15.564],[5140,-15.622],[5175,-15.587],[5225,-15.53],[5275,-15.495],[5325,-15.471],[5375,-15.448],[5425,-15.425],[5475,-15.413],[5520,-15.378],[5560,-15.344],[5595,-15.367],[5645,-15.39],[5695,-15.436],[5745,-15.471],[5795,-15.518],[5840,-15.54],[5890,-15.506],[5940,-15.436],[5990,-15.436],[6035,-15.448],[6085,-15.471],[6135,-15.495],[6185,-15.448],[6235,-15.425],[6285,-15.402],[6335,-15.425],[6385,-15.448],[6430,-15.436],[6480,-15.425],[6530,-15.413],[6580,-15.425],[6630,-15.436],[6680,-15.44],[6730,-15.455],[6780,-15.471],[6825,-15.483],[6875,-15.495],[6925,-15.506],[6975,-15.518],[7025,-15.518],[7075,-15.518],[7125,-15.506],[7175,-15.483],[7220,-15.46],[7270,-15.436],[7320,-15.413],[7370,-15.39],[7420,-15.413],[7470,-15.425],[7520,-15.436],[7570,-15.448],[7615,-15.483],[7655,-15.576],[7680,-15.68],[7695,-15.703],[7730,-15.657],[7765,-15.53],[7815,-15.436],[7865,-15.413],[7915,-15.425],[7965,-15.425],[8010,-15.448],[8060,-15.471],[8110,-15.506],[8160,-15.54],[8210,-15.564],[8260,-15.587],[8310,-15.61],[8345,-15.657],[8370,-15.68],[8405,-15.61],[8430,-15.53],[8470,-15.436],[8505,-15.355],[8555,-15.309],[8605,-15.274],[8655,-15.228],[8705,-15.193],[8755,-15.181],[8800,-15.193],[8850,-15.251],[8900,-15.344],[8950,-15.483],[9000,-15.599]];

const x10BotRaw = [[4750,-15.78],[4760,-15.48],[4770,-15.80],[4780,-15.85],[4795,-15.83],[4810,-15.93],[4825,-15.95],[4835,-16.02],[4845,-15.98],[4850,-16.27],[4860,-16.03],[4870,-16.12],[4880,-15.95],[4895,-16.02],[4905,-15.93],[4920,-15.98],[4935,-15.92],[4950,-15.96],[4965,-15.90],[4980,-15.93],[4995,-15.84],[5010,-15.86],[5025,-15.81],[5040,-15.86],[5055,-15.84],[5070,-15.91],[5085,-15.92],[5100,-15.97],[5115,-15.98],[5130,-16.03],[5145,-15.98],[5160,-16.03],[5175,-15.98],[5190,-16.03],[5205,-15.98],[5220,-16.02],[5235,-15.97],[5255,-15.99],[5275,-15.95],[5295,-15.94],[5315,-15.89],[5335,-15.88],[5355,-15.83],[5375,-15.82],[5395,-15.77],[5415,-15.77],[5435,-15.73],[5455,-15.73],[5475,-15.69],[5495,-15.69],[5515,-15.64],[5535,-15.65],[5555,-15.60],[5575,-15.62],[5595,-15.62],[5615,-15.65],[5635,-15.65],[5655,-15.70],[5675,-15.68],[5695,-15.72],[5715,-15.70],[5735,-15.74],[5755,-15.75],[5775,-15.80],[5795,-15.84],[5815,-15.89],[5835,-15.93],[5855,-15.89],[5875,-15.84],[5895,-15.75],[5915,-15.72],[5935,-15.67],[5955,-15.64],[5975,-15.60],[5995,-15.63],[6015,-15.61],[6035,-15.64],[6055,-15.63],[6075,-15.68],[6095,-15.67],[6115,-15.71],[6135,-15.70],[6155,-15.75],[6175,-15.74],[6195,-15.78],[6215,-15.76],[6235,-15.79],[6255,-15.76],[6275,-15.79],[6295,-15.77],[6315,-15.81],[6335,-15.77],[6355,-15.82],[6375,-15.80],[6395,-15.82],[6415,-15.75],[6435,-15.77],[6455,-15.72],[6475,-15.74],[6495,-15.69],[6515,-15.71],[6535,-15.67],[6555,-15.69],[6575,-15.66],[6595,-15.69],[6615,-15.68],[6635,-15.71],[6655,-15.69],[6675,-15.72],[6695,-15.70],[6715,-15.73],[6735,-15.70],[6755,-15.73],[6775,-15.70],[6795,-15.73],[6815,-15.71],[6835,-15.74],[6855,-15.73],[6875,-15.76],[6895,-15.75],[6915,-15.78],[6935,-15.76],[6955,-15.80],[6975,-15.77],[6995,-15.80],[7015,-15.77],[7035,-15.80],[7055,-15.75],[7075,-15.78],[7095,-15.72],[7115,-15.75],[7135,-15.72],[7155,-15.76],[7175,-15.74],[7195,-15.78],[7215,-15.75],[7235,-15.79],[7255,-15.76],[7275,-15.80],[7295,-15.74],[7315,-15.78],[7335,-15.70],[7350,-15.85],[7365,-15.68],[7380,-15.79],[7395,-15.68],[7410,-15.77],[7425,-15.67],[7440,-15.78],[7455,-15.69],[7470,-15.79],[7485,-15.68],[7500,-15.80],[7515,-15.69],[7530,-15.81],[7545,-15.70],[7560,-15.82],[7575,-15.71],[7590,-15.80],[7605,-15.69],[7620,-15.80],[7640,-15.72],[7660,-15.85],[7680,-15.78],[7700,-15.95],[7715,-15.85],[7730,-15.93],[7745,-15.82],[7760,-15.88],[7775,-15.74],[7790,-15.84],[7805,-15.72],[7820,-15.82],[7835,-15.69],[7850,-15.80],[7865,-15.68],[7880,-15.79],[7895,-15.66],[7910,-15.77],[7925,-15.64],[7940,-15.76],[7955,-15.63],[7970,-15.75],[7985,-15.61],[8000,-15.74],[8015,-15.62],[8030,-15.74],[8045,-15.63],[8060,-15.73],[8075,-15.64],[8090,-15.74],[8105,-15.66],[8120,-15.73],[8140,-15.69],[8160,-15.74],[8180,-15.73],[8200,-15.78],[8220,-15.77],[8240,-15.84],[8260,-15.84],[8280,-15.90],[8300,-15.90],[8320,-15.97],[8340,-15.97],[8355,-16.06],[8365,-15.93],[8380,-16.20],[8390,-16.05],[8400,-16.35],[8410,-16.02],[8420,-16.30],[8430,-15.95],[8445,-16.40],[8455,-16.00],[8470,-16.55],[8480,-15.90],[8495,-16.60],[8505,-15.88],[8515,-16.69],[8525,-15.92],[8535,-16.70],[8545,-15.90],[8560,-16.45],[8570,-15.85],[8585,-16.25],[8595,-15.88],[8610,-16.05],[8625,-15.75],[8640,-15.85],[8655,-15.70],[8670,-15.80],[8685,-15.60],[8700,-15.70],[8715,-15.56],[8730,-15.65],[8745,-15.50],[8760,-15.62],[8775,-15.47],[8790,-15.60],[8805,-15.40],[8820,-15.62],[8835,-15.48],[8850,-15.66],[8865,-15.45],[8880,-15.68],[8895,-15.50],[8910,-15.62],[8925,-15.30],[8940,-15.70],[8955,-15.45],[8970,-15.78],[8985,-15.60],[8995,-16.30],[9000,-15.70]];
const x10Bot = [[4755,-15.78],[4785,-15.808],[4810,-15.90],[4830,-15.97],[4857,-16.052],[4895,-15.97],[4930,-15.947],[4970,-15.924],[5005,-15.854],[5030,-15.831],[5055,-15.854],[5090,-15.947],[5130,-16.005],[5175,-16.005],[5225,-15.994],[5275,-15.97],[5325,-15.90],[5375,-15.831],[5425,-15.762],[5475,-15.703],[5520,-15.657],[5570,-15.611],[5620,-15.645],[5670,-15.692],[5720,-15.715],[5770,-15.762],[5805,-15.854],[5842,-15.912],[5880,-15.831],[5915,-15.715],[5965,-15.622],[5990,-15.622],[6035,-15.622],[6085,-15.669],[6135,-15.715],[6185,-15.762],[6235,-15.773],[6285,-15.773],[6335,-15.785],[6385,-15.808],[6430,-15.762],[6480,-15.727],[6530,-15.692],[6580,-15.68],[6630,-15.703],[6680,-15.715],[6730,-15.715],[6780,-15.715],[6825,-15.727],[6875,-15.75],[6925,-15.773],[6975,-15.785],[7025,-15.785],[7075,-15.762],[7125,-15.738],[7175,-15.762],[7220,-15.773],[7270,-15.785],[7320,-15.762],[7370,-15.738],[7420,-15.727],[7470,-15.738],[7520,-15.75],[7570,-15.773],[7615,-15.75],[7665,-15.808],[7705,-15.889],[7730,-15.90],[7765,-15.854],[7815,-15.785],[7865,-15.738],[7915,-15.715],[7965,-15.703],[8010,-15.703],[8060,-15.692],[8110,-15.692],[8160,-15.715],[8210,-15.762],[8260,-15.854],[8310,-15.924],[8345,-15.994],[8370,-16.087],[8395,-16.156],[8430,-16.098],[8480,-16.04],[8530,-15.994],[8580,-15.947],[8605,-15.912],[8655,-15.762],[8705,-15.622],[8755,-15.576],[8800,-15.53],[8850,-15.506],[8890,-15.564],[8925,-15.53],[8965,-15.622],[8995,-15.738]];

const gr07Bot = [[3800,-17.30],[3810,-17.40],[3820,-17.36],[3830,-17.50],[3840,-17.45],[3850,-17.58],[3858,-17.48],[3866,-17.62],[3874,-17.50],[3882,-17.60],[3890,-17.48],[3900,-17.55],[3909,-17.50],[3920,-17.40],[3933,-17.296],[3958,-17.134],[3983,-17.019],[4007,-17.088],[4032,-17.042],[4069,-17.042],[4106,-16.903],[4143,-17.019],[4192,-17.157],[4215,-17.14],[4241,-17.169],[4260,-17.19],[4278,-17.215],[4295,-17.17],[4315,-17.157],[4340,-17.18],[4365,-17.146],[4390,-17.10],[4414,-17.065],[4438,-17.134],[4460,-17.11],[4488,-17.134],[4525,-17.203],[4562,-17.134],[4611,-16.972],[4660,-16.833],[4697,-16.775],[4734,-16.833],[4771,-16.949],[4808,-16.96],[4857,-16.972],[4894,-17.065],[4931,-16.972],[4948,-16.822],[4968,-16.972],[4993,-17.03],[5030,-16.926],[5066,-16.856],[5103,-16.949],[5140,-17.10],[5177,-16.972],[5227,-16.903],[5276,-16.868],[5325,-16.833],[5374,-16.799],[5424,-16.764],[5461,-16.729],[5485,-16.752],[5522,-16.845],[5584,-16.706],[5621,-16.764],[5658,-16.868],[5695,-16.845],[5719,-16.845],[5768,-16.972],[5805,-17.111],[5842,-17.181],[5879,-17.111],[5916,-16.903],[5953,-16.775],[6015,-16.752],[6037,-16.741],[6086,-16.752],[6111,-16.799],[6160,-16.845],[6210,-16.81],[6247,-16.852],[6284,-16.799],[6309,-16.752],[6358,-16.764],[6407,-16.775],[6457,-16.845],[6506,-16.822],[6543,-16.787],[6580,-16.799],[6630,-16.787],[6667,-16.718],[6691,-16.833],[6728,-16.845],[6778,-16.88],[6827,-16.903],[6876,-16.891],[6926,-16.903],[6975,-16.926],[7012,-16.949],[7049,-16.903],[7086,-16.937],[7123,-16.926],[7173,-16.926],[7222,-16.914],[7259,-16.88],[7296,-16.845],[7321,-16.868],[7358,-16.833],[7407,-16.822],[7457,-16.88],[7518,-16.891],[7568,-16.891],[7617,-16.914],[7654,-16.972],[7691,-17.088],[7721,-17.181],[7741,-17.227],[7765,-17.111],[7802,-16.926],[7852,-16.856],[7889,-16.833],[7938,-16.856],[7988,-16.88],[8037,-16.914],[8086,-16.961],[8136,-16.984],[8185,-17.007],[8235,-17.042],[8272,-17.10],[8296,-17.273],[8321,-17.505],[8346,-17.609],[8370,-17.69],[8407,-17.644],[8457,-17.551],[8506,-17.447],[8556,-17.273],[8593,-17.042],[8630,-16.88],[8667,-16.718],[8704,-16.602],[8741,-16.567],[8778,-16.59],[8815,-16.59],[8852,-16.648],[8901,-16.683],[8938,-16.764],[8975,-16.949],[9000,-17.111]];

// line identifications: [wavelength, level, text]
const topIons = [[4157,-15.899,'TiII'],[4362,-15.964,'MgII'],[4860,-16.094,'FeII'],[5665,-16.101,'NaI'],[6163,-16.147,'SiII'],[6365,-16.135,'CII'],[6964,-16.291,'CII'],[7569,-16.474,'OI']];
const topTicks = [[4762,-15.972,'\u2014'],[4858,-15.972,'\u2016'],[4999,-15.972,'\u2014']];
const topTelluric = [[6762,-15.877,'\u2295'],[7475,-16.091,'\u2295']];
const topInstr = [[7406,-16.013,'SOAR/GTHS']];
const botIons = [[3967,-17.632,'CaII'],[4263,-17.40,'TiII'],[4461,-17.435,'MgII'],[4962,-17.528,'FeII'],[5566,-17.169,'ScII'],[5813,-17.412,'NaI'],[7717,-17.354,'OI'],[8560,-17.632,'CaII']];
const botTicks = [[4892,-17.25,'\u2014'],[4986,-17.25,'\u2016'],[5139,-17.25,'\u2014']];
const botTelluric = [[6762,-16.405,'\u2295']];
const botInstr = [[7406,-16.155,'NOT/ALFOSC'],[7406,-16.641,'SALT/RSS']];

const topNames = ['2019bkc, +0d', '2005ek,   +4d,  -3000 km/s', '2010X,    -4d, +2000 km/s', '2007gr,  -11d, +1000 km/s'];
const botNames = ['2019bkc, +7d', '2005ek,   +9d, +4500 km/s', '2010X,   +11d, +8000 km/s', '2007gr,  +22d, +5000 km/s'];

const FONT = 'DejaVu Sans';
const RED = '#ff0000', BLACK = '#000000', BLUE = '#0000ff', MAG = '#bf00bf';
const RED_L = '#ff7a7a', GREY = '#5c5c5c', BLUE_L = '#6363ff';

function line(name, data, color, width, grid, z) {
    return {
        name: name, type: 'line', data: data, xAxisIndex: grid * 2, yAxisIndex: grid * 2,
        showSymbol: false, symbol: 'none', lineStyle: { color: color, width: width },
        itemStyle: { color: color }, z: z, animation: false, clip: true
    };
}
function texts(data, grid, color, size, rotate, align) {
    return {
        type: 'scatter', data: data, xAxisIndex: grid * 2, yAxisIndex: grid * 2,
        symbolSize: 0.1, itemStyle: { color: 'transparent' }, z: 10, animation: false,
        silent: true, clip: false,
        label: {
            show: true, position: 'inside', rotate: rotate, align: align || 'center',
            verticalAlign: 'middle', formatter: p => p.data[2],
            color: color, fontSize: size, fontFamily: FONT
        }
    };
}

const yFmt = step => v => {
    const k = v / step;
    return Math.abs(k - Math.round(k)) < 1e-6 ? v.toFixed(1).replace('-', '\u2212') : '';
};
const gridLine = { show: true, lineStyle: { color: '#dcdcdc', type: [4, 3], width: 1 } };
const frame = { show: true, onZero: false, lineStyle: { color: '#000', width: 1.2 } };

function xAxes(grid) {
    return [{
        gridIndex: grid, type: 'value', min: 3800, max: 9000, interval: 200,
        axisLine: frame,
        axisTick: { show: true, inside: true, length: 5, lineStyle: { color: '#000' } },
        axisLabel: {
            formatter: v => (v % 1000 === 0 ? String(v) : ''), color: '#000',
            fontSize: 20, fontFamily: FONT, margin: 7
        },
        splitLine: gridLine,
        name: 'Rest wavelength [{i|\u00c5}]', nameLocation: 'middle', nameGap: 33,
        nameTextStyle: { color: '#000', fontSize: 25, fontFamily: FONT,
            rich: { i: { fontStyle: 'italic', fontSize: 25, fontFamily: FONT, color: '#000' } } }
    }, {
        gridIndex: grid, type: 'value', position: 'top', min: 3800, max: 9000, interval: 200,
        axisLine: frame,
        axisTick: { show: true, inside: true, length: 5, lineStyle: { color: '#000' } },
        axisLabel: { show: false }, splitLine: { show: false }
    }];
}
function yAxes(grid, min, max, opts) {
    const step = opts.step;
    return [Object.assign({
        gridIndex: grid, type: 'value', min: min, max: max,
        axisLine: frame,
        axisTick: { show: true, inside: true, length: 5, lineStyle: { color: '#000' } },
        axisLabel: { formatter: yFmt(step), color: '#000', fontSize: 20, fontFamily: FONT, margin: 6 },
        splitLine: gridLine,
        name: '{a|log}{b|10}{c|(f)+constant}', nameLocation: 'middle', nameGap: 72,
        nameTextStyle: {
            color: '#000', fontFamily: FONT,
            rich: {
                a: { fontSize: 25, fontStyle: 'italic', fontFamily: FONT, color: '#000', lineHeight: 30, verticalAlign: 'middle' },
                b: { fontSize: 17, fontFamily: FONT, color: '#000', lineHeight: 17, verticalAlign: 'bottom' },
                c: { fontSize: 25, fontFamily: FONT, color: '#000', lineHeight: 30, verticalAlign: 'middle' }
            }
        }
    }, opts.scale), {
        gridIndex: grid, type: 'value', position: 'right', min: min, max: max,
        axisLine: frame, axisTick: { show: false }, axisLabel: { show: false }, splitLine: { show: false }
    }];
}

function legend(names, left, top, itemWidth, textGap) {
    return {
        data: names, left: left, top: top, orient: 'vertical', padding: 0,
        itemWidth: itemWidth, itemHeight: 2.5, itemGap: 6, icon: 'rect',
        selectedMode: false,
        textStyle: { fontSize: 19, fontFamily: FONT, color: '#000', lineHeight: 22, padding: [0, 0, 0, textGap] }
    };
}

const chart = echarts.init(document.getElementById('chart'), null, { renderer: 'canvas' });
const option = {
    animation: false,
    backgroundColor: '#ffffff',
    grid: [
        { left: 110.7, top: 71.7, width: 702.6, height: 417.3, outerBoundsMode: 'none' },
        { left: 110.7, top: 679.3, width: 702.6, height: 416.7, outerBoundsMode: 'none' }
    ],
    xAxis: [].concat(xAxes(0), xAxes(1)),
    yAxis: [].concat(
        yAxes(0, -16.6, -14.9, { step: 0.2, scale: { interval: 0.2 } }),
        yAxes(1, -17.8, -14.9, { step: 0.5, scale: { splitNumber: 6 } })
    ),
    graphic: [
        { type: 'rect', z: -1, shape: { x: 113, y: 6, width: 702, height: 63, r: 4 },
          style: { fill: 'rgba(255,255,255,0.8)', stroke: '#d4d4d4', lineWidth: 1 } },
        { type: 'rect', z: -1, shape: { x: 113, y: 614, width: 702, height: 63, r: 4 },
          style: { fill: 'rgba(255,255,255,0.8)', stroke: '#d4d4d4', lineWidth: 1 } }
    ],
    legend: [
        legend([topNames[0], topNames[1]], 119, 11, 42, 10),
        legend([topNames[2], topNames[3]], 485, 11, 41, 10),
        legend([botNames[0], botNames[1]], 120, 620, 36, 10),
        legend([botNames[2], botNames[3]], 481, 620, 36, 10)
    ],
    series: [
        line('ek top raw', ek05TopRaw, GREY, 2.6, 0, 2),
        line(topNames[1], ek05Top, BLACK, 2, 0, 3),
        line('x10 top raw', x10TopRaw, BLUE_L, 2.6, 0, 2),
        line(topNames[2], x10Top, BLUE, 2, 0, 3),
        line('bkc top raw', bkcTopRaw, RED_L, 2.6, 0, 2),
        line(topNames[0], bkcTop, RED, 2, 0, 3),
        line(topNames[3], gr07Top, MAG, 2, 0, 4),
        texts(topIons, 0, MAG, 19, 90),
        texts(topTicks, 0, MAG, 14, 90),
        texts(topTelluric, 0, RED, 21, 0),
        texts(topInstr, 0, RED, 19, 0, 'left'),

        line('ek bot raw', ek05BotRaw, GREY, 2.6, 1, 2),
        line(botNames[1], ek05Bot, BLACK, 2, 1, 3),
        line('x10 bot raw', x10BotRaw, BLUE_L, 2.2, 1, 2),
        line(botNames[2], x10Bot, BLUE, 2, 1, 3),
        line('not raw', notRaw, RED_L, 2.6, 1, 2),
        line(botNames[0], notSmooth, RED, 2, 1, 3),
        line('salt raw', saltRaw, RED_L, 2.6, 1, 2),
        line('salt smooth', saltSmooth, RED, 2, 1, 3),
        line(botNames[3], gr07Bot, MAG, 2, 1, 4),
        texts(botIons, 1, MAG, 19, 90),
        texts(botTicks, 1, MAG, 14, 90),
        texts(botTelluric, 1, RED, 21, 0),
        texts(botInstr, 1, RED, 19, 0, 'left')
    ]
};
chart.setOption(option);
window.addEventListener('resize', () => chart.resize());
</script>
</body>
</html>
